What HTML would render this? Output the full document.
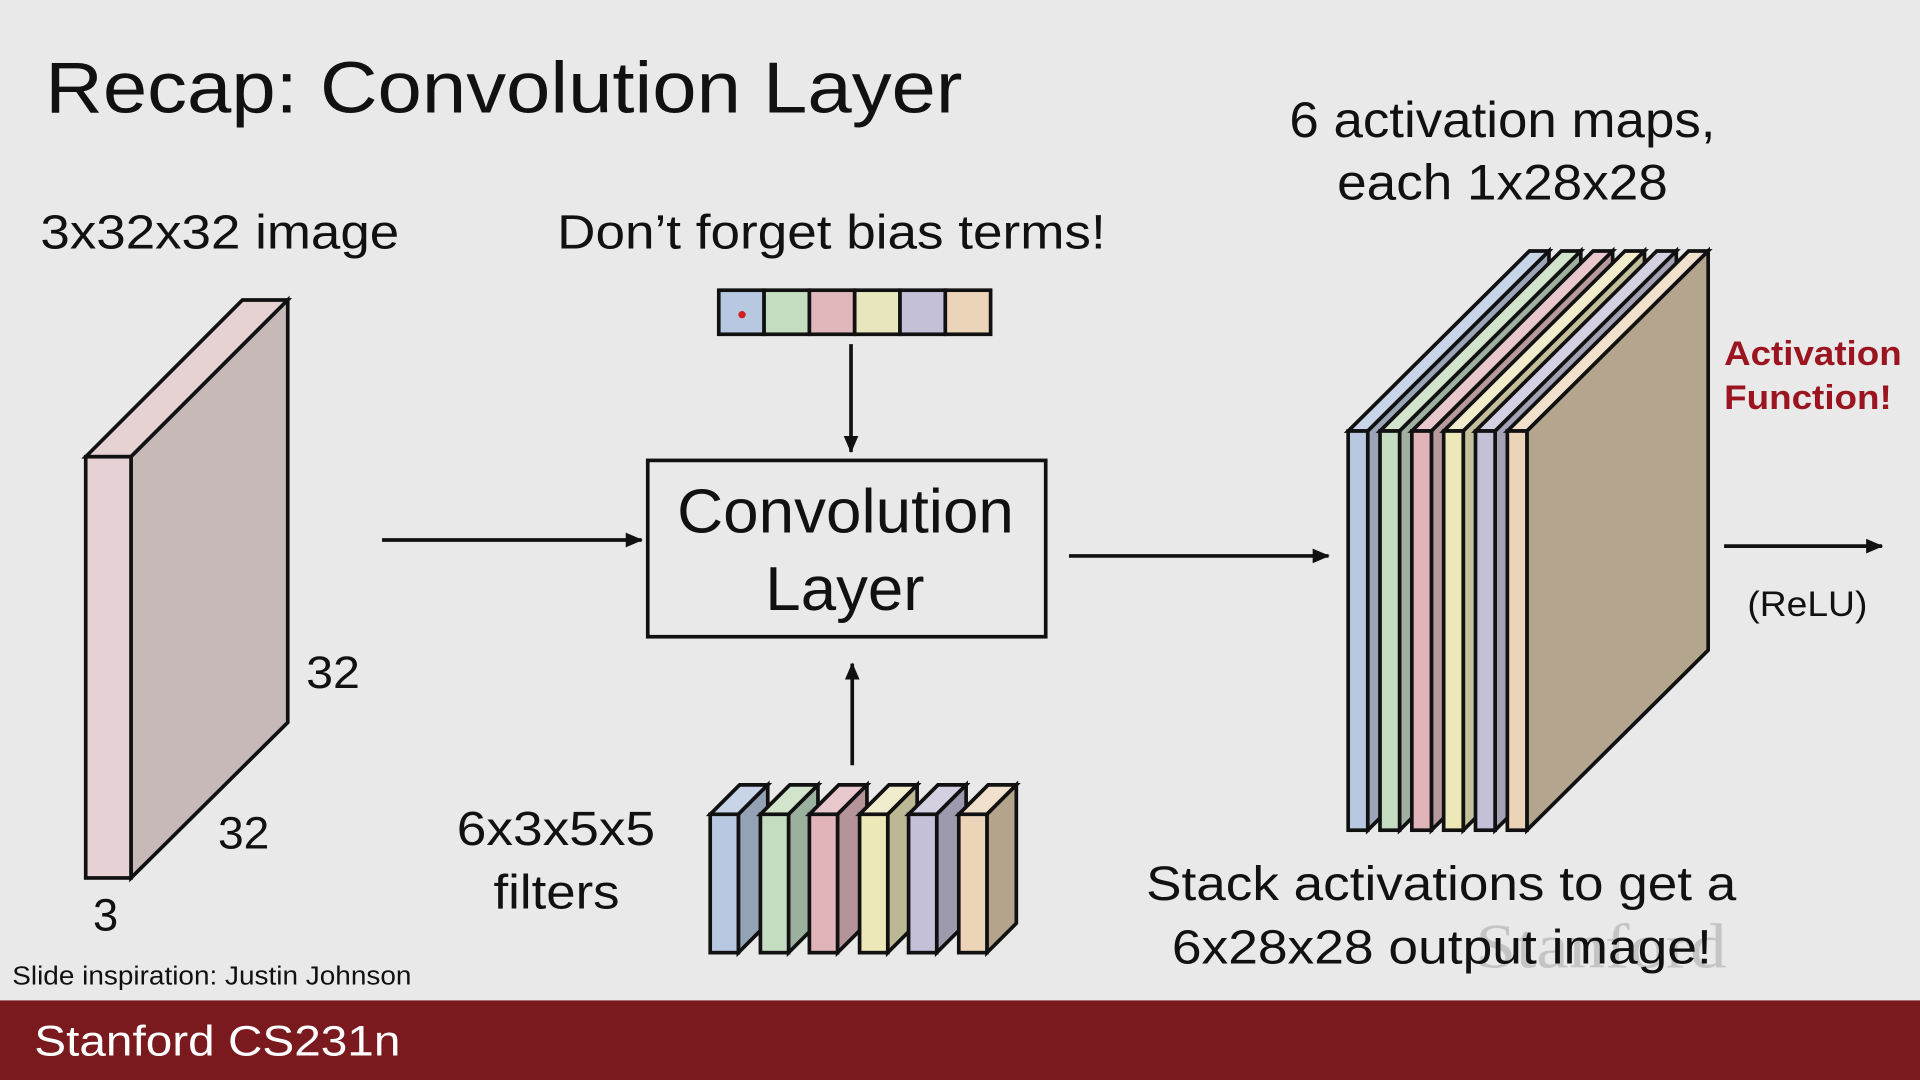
<!DOCTYPE html>
<html><head><meta charset="utf-8"><style>
html,body{margin:0;padding:0;background:#e9e9e9;overflow:hidden}
svg{display:block}
text{font-family:"Liberation Sans",sans-serif;fill:#111}
</style></head><body>
<svg width="1920" height="1080" viewBox="0 0 1568 882" preserveAspectRatio="none" xmlns="http://www.w3.org/2000/svg">
<defs>
<marker id="ah" markerWidth="14" markerHeight="12" refX="13" refY="6" orient="auto" markerUnits="userSpaceOnUse"><path d="M0,0 L14,6 L0,12 z" fill="#111"/></marker>
</defs>
<rect width="1568" height="882" fill="#e9e9e9"/>
<text x="37" y="92" font-size="59" textLength="749" lengthAdjust="spacingAndGlyphs">Recap: Convolution Layer</text>

<text x="33" y="203" font-size="39" textLength="293" lengthAdjust="spacingAndGlyphs">3x32x32 image</text>
<g stroke="#111" stroke-width="3" stroke-linejoin="miter">
<polygon points="70,373 107,373 235,245 198,245" fill="#e6d2d2"/>
<polygon points="107,373 235,245 235,590 107,717" fill="#c6b9b8"/>
<rect x="70" y="373" width="37" height="344" fill="#e6d2d4"/>
</g>
<text x="250" y="562" font-size="37" textLength="44" lengthAdjust="spacingAndGlyphs">32</text>
<text x="178" y="693" font-size="37" textLength="42" lengthAdjust="spacingAndGlyphs">32</text>
<text x="76" y="760" font-size="37">3</text>

<line x1="312" y1="441" x2="524" y2="441" stroke="#111" stroke-width="3" marker-end="url(#ah)"/>

<rect x="529" y="376" width="325" height="144" fill="none" stroke="#111" stroke-width="3"/>
<text x="553" y="435" font-size="51" textLength="275" lengthAdjust="spacingAndGlyphs">Convolution</text>
<text x="625" y="498" font-size="51" textLength="130" lengthAdjust="spacingAndGlyphs">Layer</text>

<text x="455" y="203" font-size="39" textLength="448" lengthAdjust="spacingAndGlyphs">Don’t forget bias terms!</text>
<g stroke="#111" stroke-width="3">
<rect x="587" y="237" width="37" height="36" fill="#b8c8e0"/>
<rect x="624" y="237" width="37" height="36" fill="#c4dcc0"/>
<rect x="661" y="237" width="37" height="36" fill="#e0b8bc"/>
<rect x="698" y="237" width="37" height="36" fill="#e8e6bc"/>
<rect x="735" y="237" width="37" height="36" fill="#c4c0d8"/>
<rect x="772" y="237" width="37" height="36" fill="#ecd4b8"/>
</g>
<circle cx="606" cy="257" r="3" fill="#d02020"/>
<line x1="695" y1="281" x2="695" y2="369" stroke="#111" stroke-width="3" marker-end="url(#ah)"/>
<line x1="696" y1="625" x2="696" y2="542" stroke="#111" stroke-width="3" marker-end="url(#ah)"/>

<text x="373" y="690" font-size="39" textLength="162" lengthAdjust="spacingAndGlyphs">6x3x5x5</text>
<text x="403" y="742" font-size="39" textLength="103" lengthAdjust="spacingAndGlyphs">filters</text>
<g stroke="#111" stroke-width="3" stroke-linejoin="miter">
<g transform="translate(580,0)"><polygon points="0,665 23,665 47,641 24,641" fill="#c8d4e8"/><polygon points="23,665 47,641 47,754 23,778" fill="#94a2b6"/><rect x="0" y="665" width="23" height="113" fill="#b8c8e0"/></g>
<g transform="translate(621,0)"><polygon points="0,665 23,665 47,641 24,641" fill="#d2e4cc"/><polygon points="23,665 47,641 47,754 23,778" fill="#9cb09e"/><rect x="0" y="665" width="23" height="113" fill="#c4dcc0"/></g>
<g transform="translate(661,0)"><polygon points="0,665 23,665 47,641 24,641" fill="#e8c8cc"/><polygon points="23,665 47,641 47,754 23,778" fill="#b49498"/><rect x="0" y="665" width="23" height="113" fill="#e0b4b8"/></g>
<g transform="translate(702,0)"><polygon points="0,665 23,665 47,641 24,641" fill="#f0eccc"/><polygon points="23,665 47,641 47,754 23,778" fill="#bcb894"/><rect x="0" y="665" width="23" height="113" fill="#ece8b8"/></g>
<g transform="translate(742,0)"><polygon points="0,665 23,665 47,641 24,641" fill="#d4d0e2"/><polygon points="23,665 47,641 47,754 23,778" fill="#9c9aac"/><rect x="0" y="665" width="23" height="113" fill="#c4c0d8"/></g>
<g transform="translate(783,0)"><polygon points="0,665 23,665 47,641 24,641" fill="#f0e0cc"/><polygon points="23,665 47,641 47,754 23,778" fill="#b4a48c"/><rect x="0" y="665" width="23" height="113" fill="#ecd4b8"/></g>
</g>

<line x1="873" y1="454" x2="1085" y2="454" stroke="#111" stroke-width="3" marker-end="url(#ah)"/>

<text x="1053" y="112" font-size="41" textLength="348" lengthAdjust="spacingAndGlyphs">6 activation maps,</text>
<text x="1092" y="163" font-size="41" textLength="270" lengthAdjust="spacingAndGlyphs">each 1x28x28</text>
<g stroke="#111" stroke-width="3" stroke-linejoin="miter">
<g transform="translate(1101,0)"><polygon points="0,352 16,352 164,205 148,205" fill="#c8d4e8"/><polygon points="16,352 164,205 164,531 16,678" fill="#9aa6b8"/><rect x="0" y="352" width="16" height="326" fill="#b8c8e0"/></g>
<g transform="translate(1127,0)"><polygon points="0,352 16,352 164,205 148,205" fill="#d2e4cc"/><polygon points="16,352 164,205 164,531 16,678" fill="#a0b0a0"/><rect x="0" y="352" width="16" height="326" fill="#c4dcc0"/></g>
<g transform="translate(1153,0)"><polygon points="0,352 16,352 164,205 148,205" fill="#e8c8cc"/><polygon points="16,352 164,205 164,531 16,678" fill="#b8999c"/><rect x="0" y="352" width="16" height="326" fill="#e0b4b8"/></g>
<g transform="translate(1179,0)"><polygon points="0,352 16,352 164,205 148,205" fill="#f0eccc"/><polygon points="16,352 164,205 164,531 16,678" fill="#c4c09c"/><rect x="0" y="352" width="16" height="326" fill="#ece8b8"/></g>
<g transform="translate(1205,0)"><polygon points="0,352 16,352 164,205 148,205" fill="#d4d0e2"/><polygon points="16,352 164,205 164,531 16,678" fill="#a4a2b4"/><rect x="0" y="352" width="16" height="326" fill="#c4c0d8"/></g>
<g transform="translate(1231,0)"><polygon points="0,352 16,352 164,205 148,205" fill="#f0e0cc"/><polygon points="16,352 164,205 164,531 16,678" fill="#b4a58e"/><rect x="0" y="352" width="16" height="326" fill="#ecd4b8"/></g>
</g>
<text x="1408" y="298" font-size="28" font-weight="bold" textLength="145" lengthAdjust="spacingAndGlyphs" style="fill:#9b1520">Activation</text>
<text x="1408" y="334" font-size="28" font-weight="bold" textLength="137" lengthAdjust="spacingAndGlyphs" style="fill:#9b1520">Function!</text>
<line x1="1408" y1="446" x2="1537" y2="446" stroke="#111" stroke-width="3" marker-end="url(#ah)"/>
<text x="1427" y="503" font-size="29" textLength="98" lengthAdjust="spacingAndGlyphs">(ReLU)</text>

<text x="1205" y="790" font-size="52" textLength="205" lengthAdjust="spacingAndGlyphs" style="fill:#c4c4c4;font-family:'Liberation Serif',serif">Stanford</text>
<text x="936" y="735" font-size="39" textLength="482" lengthAdjust="spacingAndGlyphs">Stack activations to get a</text>
<text x="957" y="787" font-size="39" textLength="441" lengthAdjust="spacingAndGlyphs">6x28x28 output image!</text>

<text x="10" y="804" font-size="21" textLength="326" lengthAdjust="spacingAndGlyphs">Slide inspiration: Justin Johnson</text>
<rect x="0" y="817" width="1568" height="65" fill="#7a1a1e"/>
<text x="28" y="862" font-size="35" textLength="299" lengthAdjust="spacingAndGlyphs" style="fill:#fff">Stanford CS231n</text>
</svg>
</body></html>
